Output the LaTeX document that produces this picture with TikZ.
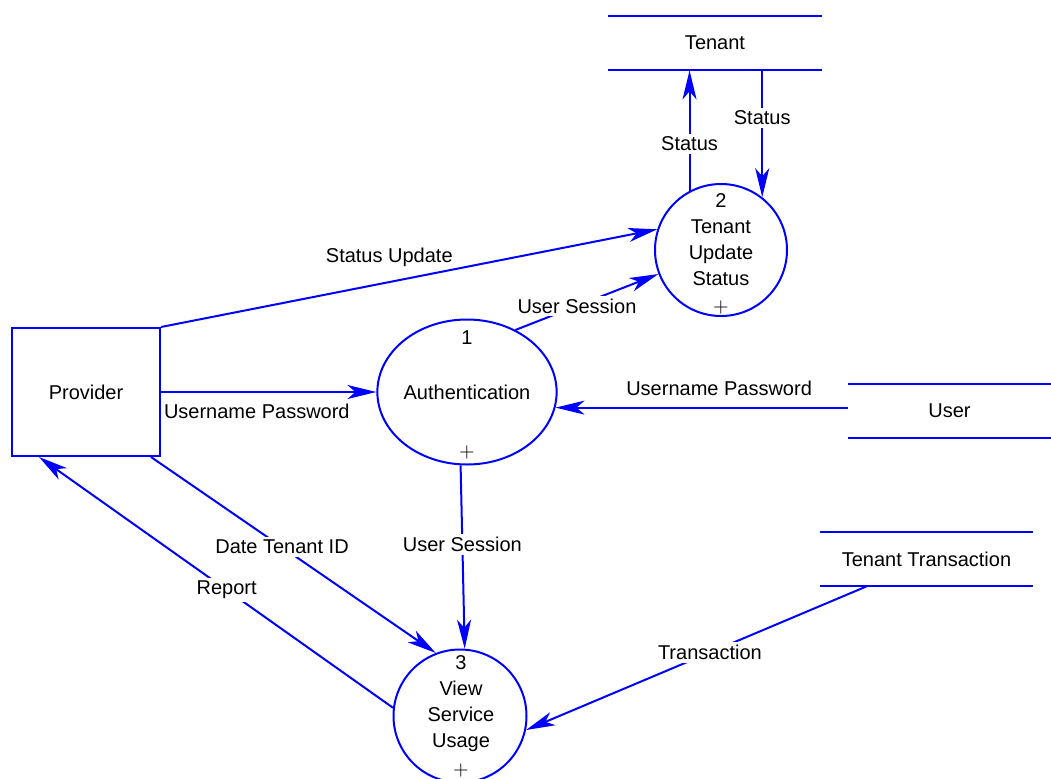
\documentclass[tikz,border=0pt]{standalone}
\usepackage{fontspec}
\setmainfont{Liberation Sans}
\usetikzlibrary{positioning, arrows.meta, shapes.geometric}

\begin{document}
\begin{tikzpicture}[x=0.5pt, y=-0.5pt,
    font=\fontsize{10}{13}\selectfont,
    bline/.style={draw=blue, line width=1pt},
    flow/.style={bline, -{Stealth[length=14.5pt, width=7pt, inset=4pt, fill=blue]}},
    entity/.style={bline, rectangle, minimum width=74pt, minimum height=64pt},
    process/.style={bline, circle, minimum size=66pt, inner sep=0pt},
    store/.style={minimum height=27pt, inner sep=0pt, append after command={
        (\tikzlastnode.north west) edge[bline] (\tikzlastnode.north east)
        (\tikzlastnode.south west) edge[bline] (\tikzlastnode.south east)}},
    tag/.style={fill=white, inner sep=1.5pt},
    ptext/.style={align=center, inner sep=0pt}]
    \useasboundingbox (0,0) rectangle (1051,778);
    \clip (0,0) rectangle (1051,778);
    % Data stores
    \node[store, minimum width=107pt] (tenant) at (715,43) {Tenant};
    \node[store, minimum width=101.5pt] (user) at (949.5,411) {User};
    \node[store, minimum width=106.5pt] (trans) at (926.5,559) {Tenant Transaction};
    % External entity
    \node[entity] (provider) at (86,392) {Provider};
    % Processes
    \node[bline, ellipse, minimum width=87pt, minimum height=72.5pt, inner sep=0pt] (auth) at (467,392) {Authentication};
    \node[ptext] (auth-id) at (467,338) {1};
    \node[ptext] (auth-plus) at (467,452) {$+$};
    \node[process] (update) at (721,250) {};
    \node[ptext] (update-text) at (721,240) {2\\Tenant\\Update\\Status};
    \node[ptext] (update-plus) at (721,307) {$+$};
    \node[process, minimum size=66.5pt] (usage) at (460,716) {};
    \node[ptext] (usage-text) at (461,704) {3\\View\\Service\\Usage};
    \node[ptext] (usage-plus) at (461,770) {$+$};
    % Flows
    \draw[flow] (update.118) -- (update.118 |- tenant.south) node[tag, pos=0.39] {Status};
    \draw[flow] (update.52 |- tenant.south) -- (update.52) node[tag, pos=0.375] {Status};
    \draw[flow] (provider.north east) -- (update.162) node[above=4pt, pos=0.46] {Status Update};
    \draw[flow] (auth.52) -- (update.201) node[tag, pos=0.43] {User Session};
    \draw[flow] (provider.east) -- (auth.west) node[below=2pt, pos=0.445] {Username Password};
    \draw[flow] (auth.-10 -| user.west) -- (auth.-10) node[above=2pt, pos=0.44] {Username Password};
    \draw[flow] (auth.265) -- (usage.86) node[tag, pos=0.43] {User Session};
    \draw[flow] ([xshift=-5pt]provider.south east) -- (usage.111) node[tag, pos=0.46] {Date Tenant ID};
    \draw[flow] (usage.173) -- ([xshift=14pt]provider.south west) node[tag, pos=0.47] {Report};
    \draw[flow] ([xshift=-30pt]trans.south) -- (usage.-12) node[tag, pos=0.46] {Transaction};
\end{tikzpicture}
\end{document}
